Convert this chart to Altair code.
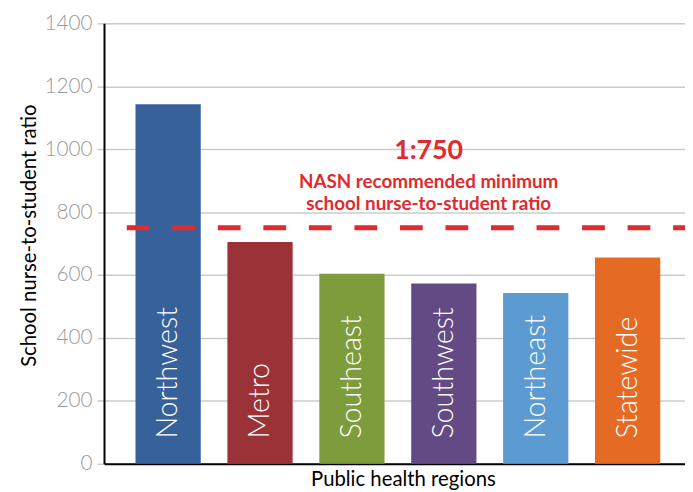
import altair as alt
import pandas as pd

regions = ["Northwest", "Metro", "Southeast", "Southwest", "Northeast", "Statewide"]
ratios = [1143, 705, 604, 573, 543, 656]
colors = ["#37619a", "#9b3237", "#7e9c3c", "#644a85", "#5b9bd2", "#e56b25"]

target = 750
note_lines = ["1:750", "NASN recommended minimum", "school nurse-to-student ratio"]
note_y = [994, 896, 826]
note_size = [27, 19, 19]

df = pd.DataFrame({"region": regions, "ratio": ratios, "color": colors})
notes = pd.DataFrame({"text": note_lines, "y": note_y, "size": note_size})

FONT = "Lato"
W, H = 587, 445

x = alt.X("region:N", sort=regions,
          scale=alt.Scale(paddingInner=0.29, paddingOuter=0.306, align=0.56),
          axis=alt.Axis(title="Public health regions", labels=False, ticks=False,
                        domainColor="black", domainWidth=2,
                        titleFont=FONT, titleFontSize=20.5, titleFontWeight="normal",
                        titleColor="black", titleX=302, titleY=16,
                        titleBaseline="middle"))
y = alt.Y("ratio:Q", scale=alt.Scale(domain=[0, 1400], nice=False),
          axis=alt.Axis(title="School nurse-to-student ratio", values=list(range(0, 1401, 200)),
                        format="d",
                        grid=True, gridColor="#cccccc", gridWidth=1.5,
                        tickColor="#cccccc", tickSize=7, tickWidth=1.5, labelPadding=5,
                        labelFont=FONT, labelFontSize=21, labelFontWeight=300,
                        labelColor="#9a9a9a",
                        domainColor="black", domainWidth=2,
                        titleFont=FONT, titleFontSize=20.5, titleFontWeight="normal",
                        titleColor="black", titleAngle=270, titleX=-75, titleY=214,
                        titleAlign="center", titleBaseline="middle"))

bars = alt.Chart(df).mark_bar().encode(
    x=x, y=y, color=alt.Color("color:N", scale=None)
)

labels = alt.Chart(df).mark_text(
    angle=270, align="left", baseline="middle", color="white",
    font=FONT, fontSize=29, fontWeight=300
).encode(x=alt.X("region:N", sort=regions), y=alt.datum(80), text="region:N")

rule = alt.Chart(pd.DataFrame({"v": [target]})).mark_rule(
    color="#e02a2e", strokeWidth=5, strokeDash=[23, 23], strokeDashOffset=11
).encode(y="v:Q")

ann = alt.Chart(notes).mark_text(
    color="#e02a2e", font=FONT, fontWeight="bold", align="center", baseline="middle"
).encode(
    x=alt.value(328), y="y:Q", text="text:N",
    size=alt.Size("size:Q", scale=None, legend=None)
)

chart = alt.layer(bars, labels, rule, ann).properties(
    width=W, height=H,
    autosize=alt.AutoSizeParams(type="none"),
    padding={"left": 97, "top": 13, "right": 0, "bottom": 26}
).configure_view(stroke=None).configure(background="white")

chart.save("out.html", embed_options={"renderer": "svg", "actions": False})
